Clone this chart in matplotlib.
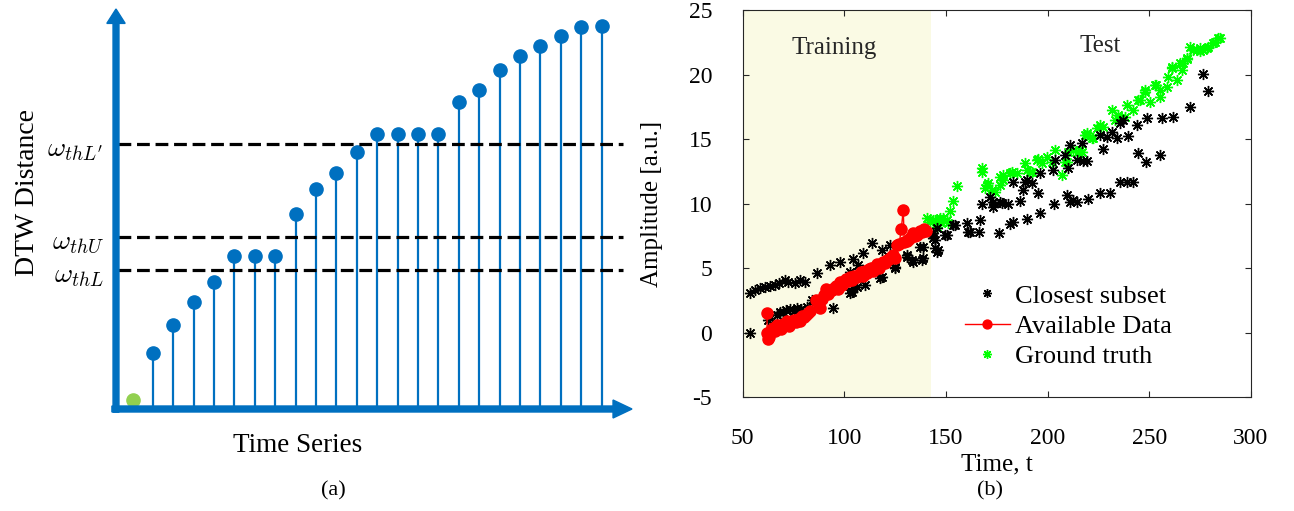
import numpy as np
import matplotlib
matplotlib.use("Agg")
import matplotlib.pyplot as plt

plt.rcParams['font.family'] = ['Liberation Serif', 'DejaVu Serif']
plt.rcParams['mathtext.fontset'] = 'cm'
plt.rcParams['axes.unicode_minus'] = False

# ---- panel (a): DTW distance of each series ----
dtw_first = 0.22
dtw_dist = [1.41, 2.10, 2.68, 3.18, 3.83, 3.83, 3.83, 4.88, 5.50, 5.90, 6.43,
            6.88, 6.88, 6.88, 6.88, 7.67, 7.98, 8.48, 8.83, 9.08, 9.33, 9.56, 9.58]
thresholds = [3.48, 4.30, 6.63]
threshold_labels = [r'$\omega_{thL}$', r'$\omega_{thU}$', r'$\omega_{thL^{\prime}}$']

# ---- panel (b): amplitude vs time ----
avail_t = [62, 62, 62.5, 63, 64, 65, 66, 67, 68, 69, 70, 71, 72, 73, 74, 75, 76, 77,
           78, 79, 80, 81, 82, 83, 86, 87, 88, 89, 90, 91, 92, 93, 94, 95, 96, 97,
           98, 99, 100, 101, 102, 103, 104, 105, 106, 107, 108, 109, 110, 111, 112,
           113, 114, 115, 116, 117, 118, 119, 120, 121, 122, 123, 124, 125, 126,
           127, 128, 129, 129.5, 131, 132, 133, 134, 135, 136, 137, 138, 139, 140]
avail_y = [1.5, 0.0, -0.5, -0.3, 0.2, 0.4, 0.1, 0.6, 0.5, 0.3, 0.7, 0.6, 0.9, 0.5,
           0.8, 1.0, 0.8, 1.1, 0.9, 1.3, 1.2, 1.4, 1.5, 1.7, 2.5, 2.4, 1.9, 2.6, 2.9,
           3.4, 3.0, 3.2, 3.3, 3.5, 3.6, 3.4, 3.9, 3.7, 4.0, 4.2, 4.0, 4.3, 4.1, 4.4,
           4.3, 4.5, 4.7, 4.4, 4.8, 4.6, 4.9, 5.0, 4.8, 5.1, 5.3, 5.0, 5.3, 5.5, 5.4,
           5.6, 5.7, 5.9, 6.0, 5.8, 6.8, 6.9, 8.0, 9.5, 7.0, 7.1, 7.3, 7.4, 7.7, 7.5,
           7.6, 7.9, 7.8, 8.0, 7.9]

closest_t = [53.6, 53.6, 56.1, 58.5, 61.0, 63.5, 65.9, 68.0, 70.8, 72.4, 75.7, 78.2,
             80.7, 86.4, 93.0, 97.9, 104.4, 106.9, 109.4, 113.5, 118.4, 122.5, 62.6,
             63.4, 67.0, 68.4, 70.0, 71.5, 73.3, 75.0, 76.6, 78.5, 81.5, 84.0, 94.6,
             102.8, 103.6, 104.4, 106.1, 110.2, 102.8, 117.6, 118.4, 125.0, 125.0,
             130.7, 130.7, 133.2, 134.0, 137.3, 138.1, 138.9, 138.9,
             143.8, 143.8, 144.6, 144.6, 145.5, 145.5, 146.3, 149.6, 150.4, 153.6,
             154.5, 160.2, 161.0, 161.9, 166.3, 166.8, 167.6, 171.7, 173.3, 173.3,
             176.2, 176.6, 177.5, 180.7, 181.5, 183.2, 183.2, 186.5, 188.1, 188.9,
             189.8, 189.8, 192.2, 195.5, 196.3, 196.3, 202.9, 203.2, 203.8, 208.6,
             209.4, 210.2, 211.1, 211.1, 212.7, 214.4, 214.4, 216.8, 217.6, 219.3,
             220.1, 225.8, 225.8, 227.2, 229.1, 230.8, 231.6, 234.0, 235.7, 235.7,
             237.3, 239.0, 239.5, 242.2, 243.9, 244.7, 248.3, 248.8, 255.4, 256.2,
             261.9, 270.1, 276.7, 279.1]
closest_y = [0.0, 3.05, 3.31, 3.44, 3.57, 3.65, 3.70, 3.85, 4.09, 3.96, 3.83, 4.09,
             3.96, 4.65, 5.25, 5.50, 5.69, 5.25, 6.15, 6.98, 6.41, 6.80, 0.98,
             1.12, 1.40, 1.60, 1.63, 1.75, 1.81, 1.70, 1.89, 1.80, 2.00, 2.53, 1.89,
             3.05, 3.18, 3.44, 3.57, 3.70, 4.73, 4.21, 4.34, 4.99, 5.12,
             5.90, 6.02, 5.64, 5.50, 6.67, 5.64, 5.77, 6.67,
             7.32, 7.70, 6.54, 7.19, 6.28, 8.09, 6.41, 7.57, 7.57, 8.35,
             8.35, 8.48, 7.83, 7.83, 7.83, 8.74, 9.98, 10.50, 9.77, 10.16,
             7.75, 10.16, 10.03, 9.98, 8.43, 8.60, 11.71, 10.23, 11.06, 11.71,
             8.79, 11.84, 11.58, 10.81, 9.26, 12.36, 12.61, 9.98, 13.39, 13.78,
             10.67, 12.74, 10.16, 14.55, 10.29, 13.39, 10.16, 14.68, 13.33, 13.33,
             10.34, 10.85, 15.33, 14.21, 15.19, 10.85, 15.58, 15.07, 11.71, 16.23,
             16.49, 11.71, 15.25, 11.71, 16.10, 13.91, 13.21, 16.62, 13.78, 16.62,
             16.74, 17.47, 20.05, 18.76]

truth_t = [140.5, 142.0, 143.8, 144.6, 145.5, 147.1, 147.1, 148.7, 150.4, 151.2,
           152.0, 153.6, 155.3, 167.6, 167.6, 169.2, 170.1, 170.9, 172.5, 174.2,
           176.6, 176.6, 178.3, 178.3, 181.5, 182.4, 184.8, 188.9, 189.8, 191.4,
           192.2, 194.7, 195.5, 197.1, 199.6, 202.1, 203.7, 206.9, 208.6, 209.4,
           210.2, 212.7, 215.2, 216.0, 216.8, 218.4, 219.3, 219.3, 221.8, 222.6,
           224.2, 225.8, 227.5, 231.6, 233.3, 234.9, 235.7, 238.2, 239.0, 242.2,
           244.7, 245.6, 248.0, 248.0, 250.4, 252.9, 253.3, 255.4, 255.4, 258.7,
           259.5, 261.1, 261.1, 263.6, 265.2, 266.0, 266.8, 268.5, 268.5, 270.1,
           271.8, 273.5, 275.0, 275.0, 276.7, 278.3, 279.1, 281.6, 282.4, 284.1, 284.9]
truth_y = [8.87, 8.60, 8.74, 8.74, 8.22, 8.60, 8.87, 8.87, 8.74, 8.48,
           9.46, 10.23, 11.37, 12.74, 12.48, 11.19, 11.45, 11.58, 11.06, 10.93,
           11.45, 12.09, 12.22, 11.84, 12.36, 12.48, 12.36, 13.13, 12.61, 12.48,
           12.48, 13.39, 13.44, 13.13, 13.64, 13.26, 14.16, 12.22, 13.26, 13.26,
           14.03, 14.16, 14.03, 14.16, 14.03, 15.33, 15.33, 15.45, 15.07, 15.07,
           15.84, 16.10, 15.97, 17.26, 16.49, 16.87, 16.62, 16.75, 17.65, 17.26,
           18.04, 18.04, 18.81, 18.68, 17.91, 19.20, 19.20, 18.30, 18.81, 19.07,
           19.85, 20.50, 20.62, 19.59, 20.88, 20.36, 20.88, 21.19, 21.27, 22.17,
           21.90, 21.95, 22.05, 21.80, 21.90, 22.05, 22.17, 22.43, 22.56, 22.82, 22.82]

train_end = 142.5

W, H = 1294, 511
fig = plt.figure(figsize=(W / 100, H / 100), dpi=100)

# ---------------- panel (a) ----------------
blue = '#0070C0'
axa = fig.add_axes([116 / W, 1 - 409 / H, (632 - 116) / W, 400 / H])
x0, x1 = -0.81, 24.49
axa.set_xlim(x0, x1)
axa.set_ylim(0, 10)
axa.axis('off')

idx = np.arange(1, len(dtw_dist) + 1)
axa.vlines(idx, 0, dtw_dist, color=blue, lw=1.6, zorder=2)
axa.plot(idx, dtw_dist, 'o', color=blue, ms=9.5, zorder=3)
axa.plot([0], [dtw_first], 'o', color='#92D050', ms=9.5, zorder=3)

for th in thresholds:
    axa.plot([-0.72, 24.07], [th, th], color='black', lw=2.3,
             dashes=(4, 1.8), zorder=4, clip_on=False)

# axes arrows
axa.arrow(-1.01, 0, x1 + 1.01, 0, width=0.15, head_width=0.45, head_length=0.93,
          length_includes_head=True, color=blue, clip_on=False, zorder=5)
axa.arrow(x0, -0.08, 0, 10.08, width=0.29, head_width=0.9, head_length=0.36,
          length_includes_head=True, color=blue, clip_on=False, zorder=5)

for th, lab in zip(thresholds, threshold_labels):
    fig.text(104 / W, 1 - (th * -40 + 409 + 7) / H, lab, fontsize=20,
             ha='right', va='center')

fig.text(28 / W, 1 - 193 / H, 'DTW Distance', fontsize=20, rotation=90,
         ha='center', va='center')
fig.text(298 / W, 1 - 446 / H, 'Time Series', fontsize=19.5, ha='center', va='center')
fig.text(333 / W, 1 - 491 / H, '(a)', fontsize=16, ha='center', va='center')
fig.text(990 / W, 1 - 491 / H, '(b)', fontsize=16, ha='center', va='center')

# ---------------- panel (b) ----------------
axb = fig.add_axes([742.7 / W, 1 - 397.2 / H, (1250.8 - 742.7) / W, (397.2 - 10.2) / H])
axb.set_xlim(50, 300)
axb.set_ylim(-5, 25)
axb.axvspan(50, train_end, color='#fafae4', zorder=0, lw=0)

asterisk = (8, 2, 0)
axb.plot(closest_t, closest_y, linestyle='none', marker=asterisk, ms=8,
         mec='black', mew=1.0, color='black', label='Closest subset', zorder=3)
axb.plot(avail_t, avail_y, '-o', color='red', lw=1, ms=8, mec='red',
         label='Available Data', zorder=4)
axb.plot(truth_t, truth_y, linestyle='none', marker=asterisk, ms=8,
         mec='#00ff00', mew=1.0, color='#00ff00', label='Ground truth', zorder=2)

axb.text(95, 22.1, 'Training', fontsize=18, ha='center', va='center', color='#262626')
axb.text(226, 22.2, 'Test', fontsize=18, ha='center', va='center', color='#262626')

axb.set_xticks([50, 100, 150, 200, 250, 300])
axb.set_yticks([-5, 0, 5, 10, 15, 20, 25])
axb.tick_params(direction='in', top=True, right=True, length=4, width=0.8,
                labelsize=17, colors='#262626', labelcolor='black', pad=22)
for s in axb.spines.values():
    s.set_color('#262626')
    s.set_linewidth(0.8)
axb.set_xlabel('Time, t', fontsize=18, va='center')
axb.xaxis.set_label_coords(0.5, -0.1726)
axb.set_ylabel('Amplitude [a.u.]', fontsize=18, va='center')
axb.yaxis.set_label_coords(-0.1785, 0.5)

leg = axb.legend(loc='upper left', bbox_to_anchor=(0.4375, 0.292), frameon=False,
                 fontsize=19, handlelength=1.7, handletextpad=0.2, labelspacing=0.25,
                 borderaxespad=0, borderpad=0, markerscale=0.8)

fig.savefig('out.png', dpi=100)
